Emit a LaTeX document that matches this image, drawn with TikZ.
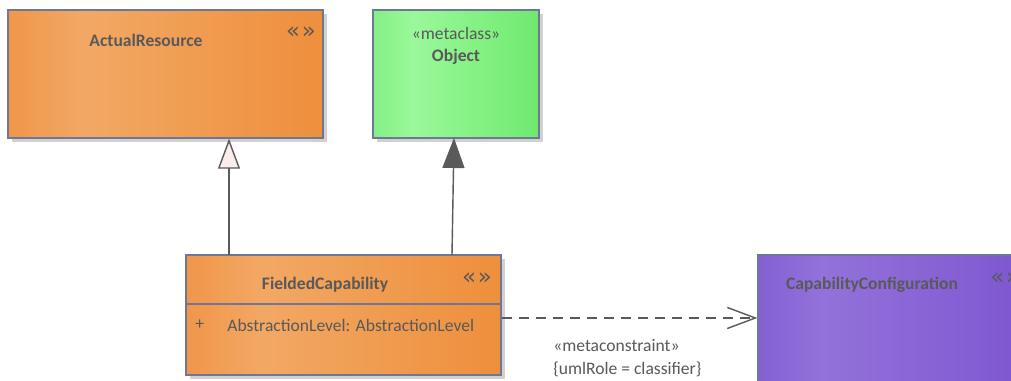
\documentclass[tikz,border=0pt]{standalone}
\usepackage{fontspec}
\setmainfont{Carlito}
\newfontfamily\iconfont{DejaVu Sans}
\usetikzlibrary{arrows.meta,positioning,shadows}

\definecolor{orangeA}{HTML}{F0964A}
\definecolor{orangeB}{HTML}{F2A864}
\definecolor{orangeC}{HTML}{EE8F3C}
\definecolor{greenA}{HTML}{84F084}
\definecolor{greenB}{HTML}{9AF89A}
\definecolor{greenC}{HTML}{6EEA6E}
\definecolor{purpleA}{HTML}{8460D4}
\definecolor{purpleB}{HTML}{9372DA}
\definecolor{purpleC}{HTML}{7E56D0}
\definecolor{edgecol}{HTML}{6E7896}
\definecolor{textcol}{HTML}{595959}
\definecolor{linecol}{HTML}{5A5A5A}
\definecolor{trifill}{HTML}{FBEEEA}

\pgfdeclarehorizontalshading{orangeshade}{100bp}{color(0bp)=(orangeA); color(25bp)=(orangeA); color(37bp)=(orangeB); color(75bp)=(orangeC); color(100bp)=(orangeC)}
\pgfdeclarehorizontalshading{greenshade}{100bp}{color(0bp)=(greenA); color(25bp)=(greenA); color(37bp)=(greenB); color(75bp)=(greenC); color(100bp)=(greenC)}
\pgfdeclarehorizontalshading{purpleshade}{100bp}{color(0bp)=(purpleA); color(25bp)=(purpleA); color(37bp)=(purpleB); color(75bp)=(purpleC); color(100bp)=(purpleC)}

\tikzset{
	element/.style={shape=rectangle, draw=edgecol, line width=0.8pt, inner sep=0pt,
		drop shadow={shadow xshift=0.08cm, shadow yshift=-0.08cm, fill=black!18, opacity=1}},
	title/.style={text=textcol, font=\fontsize{10}{12}\selectfont\bfseries, inner sep=0pt},
	plain/.style={text=textcol, font=\fontsize{10}{12}\selectfont, inner sep=0pt},
	icon/.style={text=textcol, font=\iconfont\fontsize{13}{14}\selectfont, inner sep=0pt},
	generalize/.style={draw=linecol, line width=0.8pt},
}

\begin{document}
\begin{tikzpicture}[x=0.02cm, y=-0.02cm]
	\clip (0, 0) rectangle (1011, 381);
	\useasboundingbox (0, 0) rectangle (1011, 381);
	\fill[white] (0, 0) rectangle (1011, 381);

	% classes
	\node[element, shading=orangeshade, minimum width=6.3cm, minimum height=2.56cm](AR) at (165.5, 74){};
	\node[element, shading=greenshade, minimum width=3.32cm, minimum height=2.56cm](OB) at (456, 74){};
	\node[element, shading=orangeshade, minimum width=6.3cm, minimum height=2.4cm](FC) at (343.5, 315){};
	\node[element, shading=purpleshade, minimum width=5.4cm, minimum height=3cm](CC) at (893, 330){};

	% texts
	\node[title](ARname) at (146, 40){ActualResource};
	\node[icon](ARicon) at (301, 33){«\kern1pt»};
	\node[plain](OBstereo) at (456, 33){«metaclass»};
	\node[title](OBname) at (456, 57){Object};
	\node[title](FCname) at (325, 285){FieldedCapability};
	\node[icon](FCicon) at (477, 279){«\kern1pt»};
	\node[plain, anchor=west](FCplus) at (195, 325){+};
	\node[plain, anchor=west](FCattr) at (227, 325){AbstractionLevel: AbstractionLevel};
	\node[title](CCname) at (872, 285){CapabilityConfiguration};
	\node[icon, anchor=west](CCicon) at (990, 279){«\kern1pt»};
	\draw[draw=edgecol, line width=0.8pt] (FC.west |- 0, 304) -- (FC.east |- 0, 304);

	% connectors
	\coordinate (G1) at (229, 255);
	\coordinate (G2) at (452, 255);
	\draw[generalize, -{Triangle[open, width=0.44cm, length=0.6cm, fill=trifill]}] (G1) -- (G1 |- AR.south);
	\draw[generalize, -{Triangle[width=0.44cm, length=0.6cm]}] (G2) -- (454, 138) coordinate (G3);
	\draw[draw=linecol, line width=0.8pt, dash pattern={on 0.2cm off 0.14cm}, -{Straight Barb[length=0.56cm, width=0.42cm]}] (FC.east |- 0, 318) -- (CC.west |- 0, 318);
	\node[plain, anchor=west](MCstereo) at (553, 346){«metaconstraint»};
	\node[plain, anchor=west](MCrole) at (553, 369){\{umlRole = classifier\}};
\end{tikzpicture}
\end{document}
